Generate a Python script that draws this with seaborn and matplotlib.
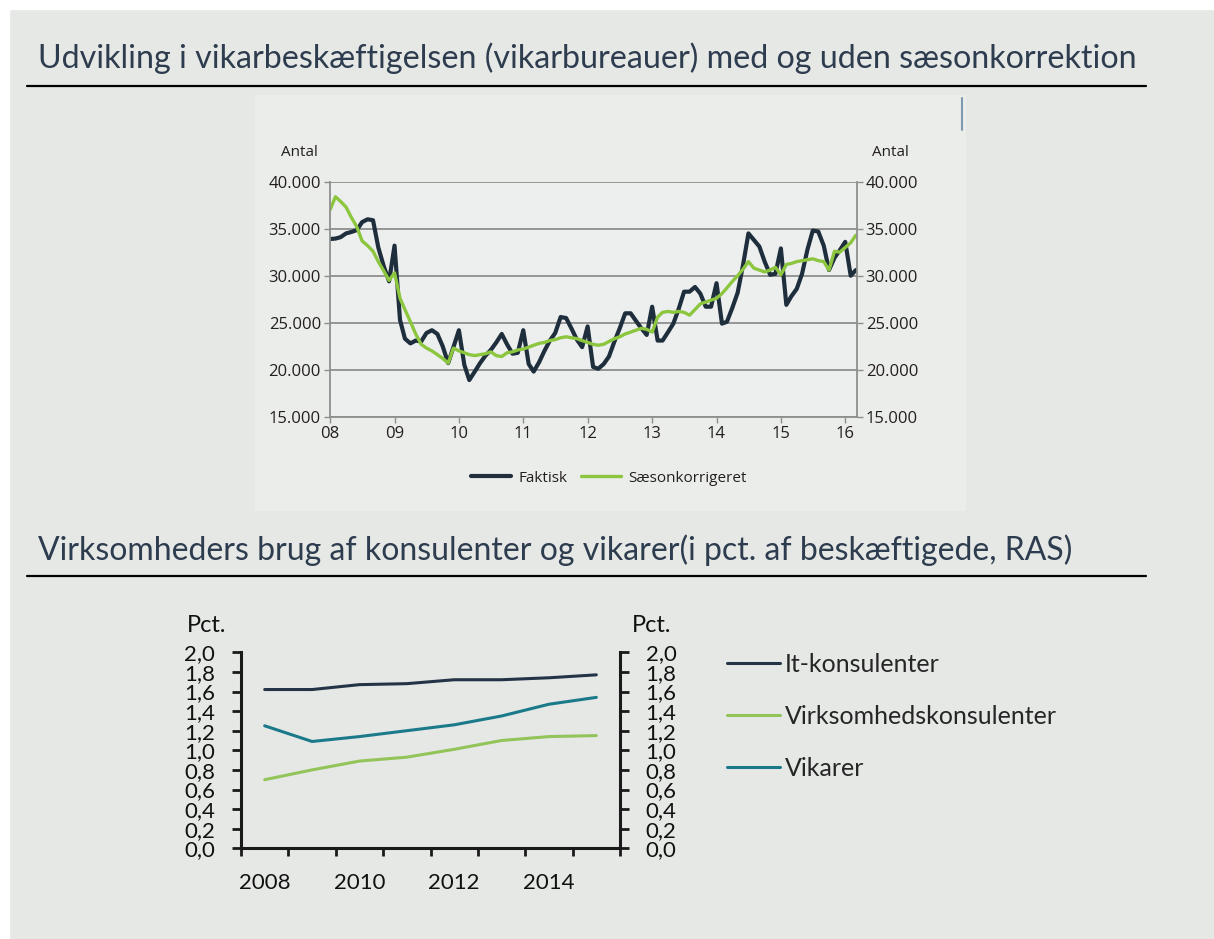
#!/usr/bin/env python3
# -*- coding: utf-8 -*-
"""
Vikarbeskæftigelse og virksomheders brug af konsulenter/vikarer
"""

import numpy as np
import pandas as pd
import matplotlib
matplotlib.use("Agg")
import matplotlib.pyplot as plt
from matplotlib.lines import Line2D
from matplotlib.patches import Rectangle
from matplotlib.ticker import FuncFormatter
import seaborn as sns

# Øverste figur: månedlige tal, jan 2008 - mar 2016
START_MAANED = "2008-01-01"
FAKTISK = [
    33900, 33950, 34100, 34500, 34650, 34850, 35700, 36000, 35900, 33000, 31000, 29400,
    33200, 25300, 23300, 22800, 23100, 23000, 23900, 24200, 23800, 22500, 20700, 22400,
    24200, 20500, 18900, 19800, 20700, 21500, 22100, 22900, 23800, 22700, 21700, 21800,
    24200, 20600, 19800, 20800, 22000, 23100, 23900, 25600, 25500, 24400, 23200, 22400,
    24600, 20300, 20100, 20600, 21400, 23000, 24400, 26000, 26000, 25200, 24400, 23700,
    26700, 23100, 23100, 24000, 24900, 26500, 28300, 28300, 28800, 28100, 26700, 26700,
    29200, 24900, 25100, 26600, 28200, 31200, 34500, 33800, 33100, 31500, 30100, 30200,
    32900, 26900, 27800, 28600, 30200, 32800, 34800, 34700, 33200, 30600, 31900, 32700,
    33600, 30000, 30600,
]
SAESONKORRIGERET = [
    37000, 38400, 37900, 37300, 36200, 35200, 33700, 33200, 32600, 31500, 30500, 29500,
    30300, 27600, 26400, 25100, 23800, 22700, 22300, 22000, 21600, 21200, 20700, 22300,
    22000, 21800, 21600, 21500, 21600, 21700, 21900, 21500, 21400, 21800, 21900, 22100,
    22200, 22400, 22600, 22800, 22900, 23100, 23200, 23400, 23500, 23400, 23300, 23100,
    22900, 22700, 22600, 22700, 23000, 23300, 23500, 23800, 24000, 24200, 24400, 24300,
    24000, 25600, 26100, 26200, 26100, 26200, 26100, 25800, 26400, 27000, 27200, 27400,
    27600, 28100, 28700, 29400, 30000, 30700, 31500, 30800, 30600, 30400, 30600, 30900,
    30100, 31200, 31300, 31500, 31600, 31700, 31800, 31600, 31500, 30600, 32600, 32500,
    33000, 33500, 34300,
]
TOP_AAR = [2008, 2009, 2010, 2011, 2012, 2013, 2014, 2015, 2016]
TOP_YTICKS = [15000, 20000, 25000, 30000, 35000, 40000]

# Nederste figur: årlige tal i pct. af beskæftigede
AAR = [2008, 2009, 2010, 2011, 2012, 2013, 2014, 2015]
IT_KONSULENTER = [1.62, 1.62, 1.67, 1.68, 1.72, 1.72, 1.74, 1.77]
VIRKSOMHEDSKONSULENTER = [0.70, 0.80, 0.89, 0.93, 1.01, 1.10, 1.14, 1.15]
VIKARER = [1.25, 1.09, 1.14, 1.20, 1.26, 1.35, 1.47, 1.54]
BUND_YTICKS = [0.0, 0.2, 0.4, 0.6, 0.8, 1.0, 1.2, 1.4, 1.6, 1.8, 2.0]
BUND_XLABELS = [2008, 2010, 2012, 2014]

# Farver
BAGGRUND = "#e6e8e6"
TITEL_FARVE = "#2d3c4e"
MOERK = "#1f2e3c"
GROEN = "#8cc63f"
IT_FARVE = "#243447"
VK_FARVE = "#92c45a"
VIK_FARVE = "#1b7a8a"
TEKST = "#231f20"
GITTER = "#8e8e8e"
SANS = ["Open Sans", "DejaVu Sans"]

W, H = 1214, 939


def fy(y):
    """pixel (fra toppen) -> figurkoordinat"""
    return 1 - y / H


def px_axes(fig, left, top, right, bottom):
    return fig.add_axes([left / W, fy(bottom), (right - left) / W, (bottom - top) / H])


sns.set_theme(style="white")
plt.rcParams["font.family"] = ["Lato", "DejaVu Sans"]

fig = plt.figure(figsize=(W / 100, H / 100), dpi=100, facecolor=BAGGRUND)

# hvid kant øverst og til venstre
fig.patches.append(Rectangle((0, fy(9)), 1, 9 / H, transform=fig.transFigure,
                             color="white", zorder=-2))
fig.patches.append(Rectangle((0, 0), 9 / W, 1, transform=fig.transFigure,
                             color="white", zorder=-2))
# lysere felt bag den indsatte graf
fig.patches.append(Rectangle((255 / W, fy(510)), 710 / W, 415 / H,
                             transform=fig.transFigure, color="#ebedeb", zorder=-1))
fig.add_artist(Line2D([962 / W, 962 / W], [fy(98), fy(130)], color="#7f9ab0", lw=1.5))

# Overskrifter og streger
fig.text(38 / W, fy(58), "Udvikling i vikarbeskæftigelsen (vikarbureauer) med og uden sæsonkorrektion",
         ha="left", va="center", fontsize=23.2, color=TITEL_FARVE)
fig.add_artist(Line2D([27 / W, 1146 / W], [fy(86), fy(86)], color="black", lw=1.6))
fig.text(38 / W, fy(550), "Virksomheders brug af konsulenter og vikarer(i pct. af beskæftigede, RAS)",
         ha="left", va="center", fontsize=23, color=TITEL_FARVE)
fig.add_artist(Line2D([27 / W, 1146 / W], [fy(576), fy(576)], color="black", lw=1.6))

# ---------- Øverste graf ----------
datoer = pd.date_range(START_MAANED, periods=len(FAKTISK), freq="MS")
df_top = pd.DataFrame({"dato": datoer, "Faktisk": FAKTISK, "Sæsonkorrigeret": SAESONKORRIGERET})
df_top_long = df_top.melt(id_vars="dato", var_name="serie", value_name="antal")

ax1 = px_axes(fig, 330, 181.7, 856.7, 416.7)
ax1.set_facecolor("#edefee")
sns.lineplot(data=df_top_long, x="dato", y="antal", hue="serie",
             palette={"Faktisk": MOERK, "Sæsonkorrigeret": GROEN},
             ax=ax1, legend=False)
ax1.lines[0].set_linewidth(3.0)
ax1.lines[1].set_linewidth(2.4)

ax1.set_xlim(pd.Timestamp("2008-01-01"), pd.Timestamp("2016-03-06"))
ax1.set_ylim(15000, 40000)
ax1.set_yticks(TOP_YTICKS)
ax1.yaxis.set_major_formatter(FuncFormatter(lambda v, p: f"{v:,.0f}".replace(",", ".")))
ax1.set_xticks([pd.Timestamp(f"{a}-01-01") for a in TOP_AAR])
ax1.set_xticklabels([f"{a % 100:02d}" for a in TOP_AAR])
ax1.set_xlabel("")
ax1.set_ylabel("")
ax1.yaxis.grid(True, color=GITTER, lw=1.3)
ax1.set_axisbelow(True)
for side in ["left", "right", "bottom"]:
    ax1.spines[side].set_color(GITTER)
    ax1.spines[side].set_linewidth(1.3)
ax1.spines["top"].set_visible(False)
ax1.tick_params(axis="y", left=True, right=True, labelleft=True, labelright=True,
                length=4.5, width=1, color=GITTER, pad=2,
                labelsize=12, labelcolor=TEKST)
ax1.tick_params(axis="x", bottom=True, length=4, width=1, color=GITTER, pad=3,
                labelsize=12, labelcolor=TEKST)
for t in ax1.yaxis.get_major_ticks() + ax1.xaxis.get_major_ticks():
    t.label1.set_fontfamily(SANS)
    t.label2.set_fontfamily(SANS)

fig.text(299 / W, fy(152), "Antal", ha="center", va="center", fontsize=11,
         color=TEKST, family=SANS)
fig.text(890 / W, fy(152), "Antal", ha="center", va="center", fontsize=11,
         color=TEKST, family=SANS)

top_handles = [Line2D([], [], color=MOERK, lw=3.0), Line2D([], [], color=GROEN, lw=2.4)]
leg1 = fig.legend(top_handles, ["Faktisk", "Sæsonkorrigeret"], loc="center",
                  bbox_to_anchor=(609 / W, fy(478)), ncol=2, frameon=False,
                  handlelength=2.6, handletextpad=0.5, columnspacing=0.9,
                  prop={"family": SANS, "size": 11})
for t in leg1.get_texts():
    t.set_color(TEKST)

# ---------- Nederste graf ----------
df_bund = pd.DataFrame({
    "aar": AAR,
    "It-konsulenter": IT_KONSULENTER,
    "Virksomhedskonsulenter": VIRKSOMHEDSKONSULENTER,
    "Vikarer": VIKARER,
})
df_bund_long = df_bund.melt(id_vars="aar", var_name="serie", value_name="pct")

ax2 = px_axes(fig, 241, 652.3, 620, 848.3)
ax2.set_facecolor(BAGGRUND)
sns.lineplot(data=df_bund_long, x="aar", y="pct", hue="serie",
             palette={"It-konsulenter": IT_FARVE, "Virksomhedskonsulenter": VK_FARVE,
                      "Vikarer": VIK_FARVE},
             lw=2.2, ax=ax2, legend=False)
ax2.set_xlim(AAR[0] - 0.5, AAR[-1] + 0.5)
ax2.set_ylim(0, 2.0)
ax2.set_xlabel("")
ax2.set_ylabel("")
ax2.set_yticks(BUND_YTICKS)
ax2.yaxis.set_major_formatter(FuncFormatter(lambda v, p: f"{v:.1f}".replace(".", ",")))
ax2.set_xticks(BUND_XLABELS)
ax2.set_xticks([a - 0.5 for a in AAR] + [AAR[-1] + 0.5], minor=True)
ax2.set_xticklabels([str(a) for a in BUND_XLABELS])
ax2.grid(False)
for side in ["left", "right", "bottom"]:
    ax2.spines[side].set_color("#1a1a1a")
    ax2.spines[side].set_linewidth(2.2)
ax2.spines["top"].set_visible(False)
ax2.tick_params(axis="y", left=True, right=True, labelleft=True, labelright=True,
                direction="out", length=6.5, width=2, color="#1a1a1a", pad=12,
                labelsize=16, labelcolor="#111111")
ax2.tick_params(axis="x", which="major", bottom=False, length=0, pad=18,
                labelsize=16, labelcolor="#111111")
ax2.tick_params(axis="x", which="minor", bottom=True, direction="out", length=6,
                width=2, color="#1a1a1a")

fig.text(207 / W, fy(625), "Pct.", ha="center", va="center", fontsize=17, color="#111111")
fig.text(652 / W, fy(625), "Pct.", ha="center", va="center", fontsize=17, color="#111111")

bund_handles = [Line2D([], [], color=IT_FARVE, lw=2.2),
                Line2D([], [], color=VK_FARVE, lw=2.2),
                Line2D([], [], color=VIK_FARVE, lw=2.2)]
fig.legend(bund_handles, ["It-konsulenter", "Virksomhedskonsulenter", "Vikarer"],
           loc="upper left", bbox_to_anchor=(727 / W, fy(653)), frameon=False,
           borderpad=0, borderaxespad=0, handlelength=2.1, handletextpad=0.2,
           labelspacing=1.15, prop={"size": 18})

fig.savefig("out.png", dpi=100, facecolor=fig.get_facecolor())
